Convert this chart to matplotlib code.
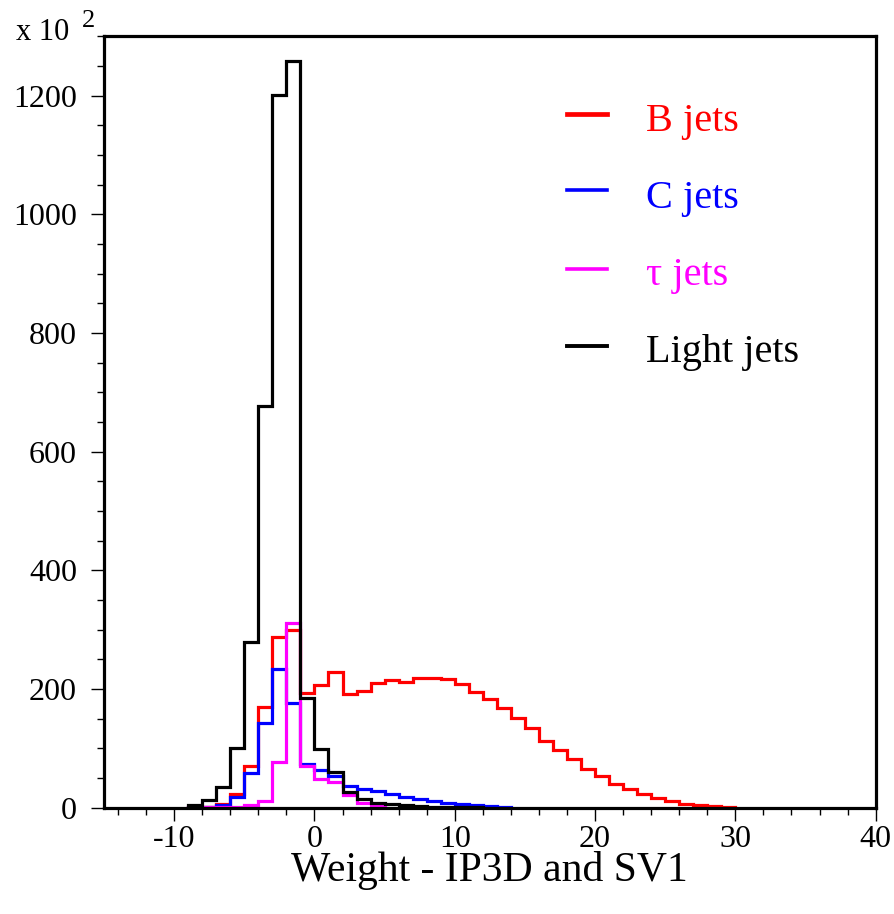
import matplotlib
matplotlib.use("Agg")
import matplotlib.pyplot as plt
import numpy as np
from matplotlib.ticker import MultipleLocator

plt.rcParams['font.family'] = ['Liberation Serif', 'DejaVu Serif']
plt.rcParams['axes.unicode_minus'] = False

# bin edges: unit bins starting at -9
first_edge = -9

b_jets = [0.5, 2, 7, 23, 70, 170, 288, 300, 193, 206, 228, 192, 197, 211, 215, 212,
          219, 219, 217, 208, 195, 183, 168, 152, 134, 112, 97, 82, 66, 53, 40, 31,
          23, 17, 11, 7, 5, 3, 2]
c_jets = [0.5, 1, 5, 18, 58, 143, 233, 176, 74, 63, 54, 37, 32, 28, 23, 18, 14, 11,
          8, 6, 5, 3, 2]
tau_jets = [0.5, 1, 1.5, 2, 4, 12, 77, 311, 70, 48, 43, 21, 8, 3]
light_jets = [4, 13, 35, 100, 280, 677, 1202, 1259, 185, 99, 60, 27, 14, 8, 6, 4,
              3, 2, 1, 1, 0.5]

series = [("B jets", b_jets, "#ff0000"),
          ("C jets", c_jets, "#0000ff"),
          ("\u03c4 jets", tau_jets, "#ff00ff"),
          ("Light jets", light_jets, "#000000")]

fig = plt.figure(figsize=(8.95, 9.14), dpi=100)
ax = fig.add_axes([0.1162, 0.1163, 0.8622, 0.8439])

for label, vals, col in series:
    edges = first_edge + np.arange(len(vals) + 1)
    ax.stairs(vals, edges, color=col, linewidth=2.3)

ax.set_xlim(-15, 40)
ax.set_ylim(0, 1300)

ax.xaxis.set_major_locator(MultipleLocator(10))
ax.xaxis.set_minor_locator(MultipleLocator(2))
ax.yaxis.set_major_locator(MultipleLocator(200))
ax.yaxis.set_minor_locator(MultipleLocator(50))
ax.tick_params(which='major', direction='out', length=9.5, width=1.0, labelsize=23)
ax.tick_params(which='minor', direction='out', length=5, width=1.0)
ax.tick_params(axis='x', which='major', pad=3)
ax.tick_params(axis='y', which='major', pad=10)
for s in ax.spines.values():
    s.set_linewidth(2.3)

ax.set_xlabel("Weight - IP3D and SV1", fontsize=30, labelpad=-2)

fig.text(0.018, 0.956, "x 10", fontsize=22, va='baseline', ha='left')
fig.text(0.091, 0.971, "2", fontsize=19, va='baseline', ha='left')

# legend drawn by hand
line_y = [0.900, 0.801, 0.699, 0.599]
text_y = [0.8777, 0.7780, 0.6783, 0.5782]
line_w = [3.4, 2.6, 2.6, 2.8]
for (label, vals, col), ly, ty, lw in zip(series, line_y, text_y, line_w):
    ax.plot([0.600, 0.652], [ly, ly], color=col, linewidth=lw, transform=ax.transAxes)
    ax.text(0.7024, ty, label, color=col, fontsize=29, va='baseline', ha='left',
            transform=ax.transAxes)

fig.savefig("out.png", dpi=100)
